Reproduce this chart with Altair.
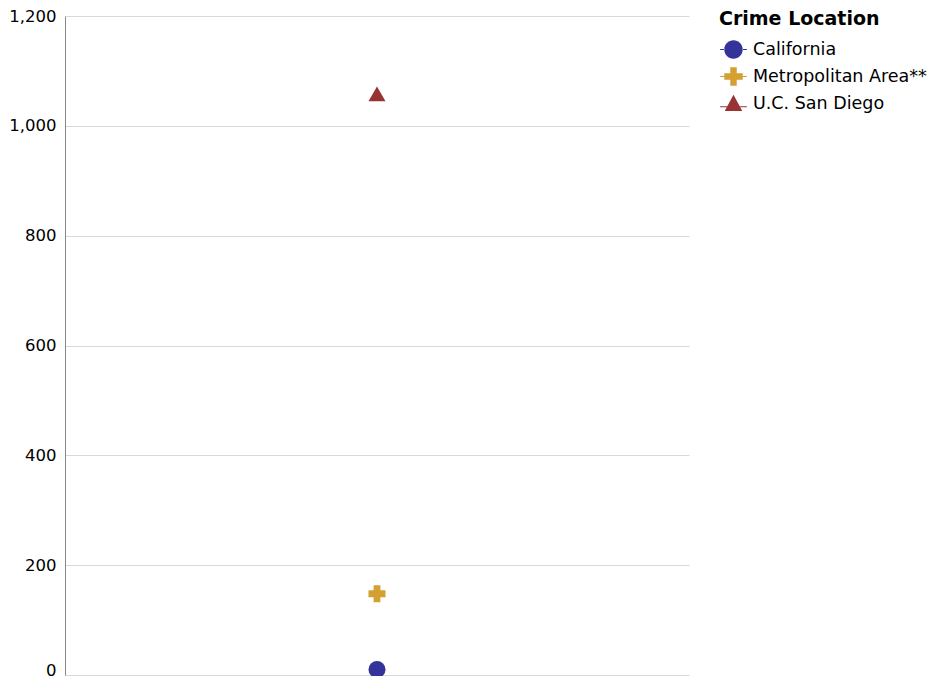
import altair as alt
import pandas as pd

locations = ["California", "Metropolitan Area**", "U.C. San Diego"]
values = [10, 148, 1058]
groups = ["All", "All", "All"]
colors = ["#333399", "#D4A032", "#993333"]
shapes = ["circle", "cross", "triangle-up"]
legend_paths = [
    "M-1,0 A1,1 0 1,0 1,0 A1,1 0 1,0 -1,0 Z M-1.45,-0.06 H-0.95 V0.06 H-1.45 Z M0.95,-0.06 H1.45 V0.06 H0.95 Z",
    "M-1,-0.35 H-0.35 V-1 H0.35 V-0.35 H1 V0.35 H0.35 V1 H-0.35 V0.35 H-1 Z M-1.45,-0.06 H-1 V0.06 H-1.45 Z M1,-0.06 H1.45 V0.06 H1 Z",
    "M0,-0.95 L0.95,0.8 L-0.95,0.8 Z M-1.45,0.3 H-0.6 V0.42 H-1.45 Z M0.6,0.3 H1.45 V0.42 H0.6 Z",
]

df = pd.DataFrame({"location": locations, "value": values, "group": groups})

y_enc = alt.Y(
    "value:Q",
    scale=alt.Scale(domain=[0, 1200], nice=False),
    axis=alt.Axis(title=None, values=[0, 200, 400, 600, 800, 1000, 1200], format=",.0f",
                  ticks=False, labelPadding=9, domainColor="#888888",
                  gridColor="#d9d9d9", labelFontSize=16.5, labelColor="#000000",
                  labelFont="DejaVu Sans",
                  labelBaseline={"condition": {"test": "datum.value == 0", "value": "alphabetic"},
                                 "value": "middle"}),
)
x_enc = alt.X("group:N", axis=None)

points = alt.Chart(df).mark_point(filled=True, size=290, opacity=1).encode(
    x=x_enc,
    y=y_enc,
    color=alt.Color("location:N", scale=alt.Scale(domain=locations, range=colors), legend=None),
    shape=alt.Shape("location:N", scale=alt.Scale(domain=locations, range=shapes), legend=None),
)

leg = dict(
    title="Crime Location",
    orient="none",
    legendX=654,
    legendY=-6,
    titleFontSize=19,
    titleFont="DejaVu Sans",
    titleFontWeight="bold",
    titleColor="#000000",
    titlePadding=11,
    labelFontSize=17.5,
    labelFont="DejaVu Sans",
    labelColor="#000000",
    labelLimit=0,
    labelOffset=10,
    symbolOffset=5,
    symbolSize=340,
    symbolOpacity=1,
    symbolStrokeWidth=0,
    rowPadding=8,
    padding=0,
)

legend_layer = alt.Chart(df).mark_point(filled=True, size=290, opacity=0).encode(
    x=x_enc,
    y=y_enc,
    color=alt.Color("location:N", scale=alt.Scale(domain=locations, range=colors), legend=alt.Legend(**leg)),
    shape=alt.Shape("location:N", scale=alt.Scale(domain=locations, range=legend_paths), legend=alt.Legend(**leg)),
)

chart = alt.layer(points, legend_layer).resolve_scale(
    color="independent", shape="independent"
).properties(
    width=624,
    height=659,
    autosize=alt.AutoSizeParams(type="none"),
    padding={"left": 57, "top": 8, "right": 245, "bottom": 1},
).configure(font="DejaVu Sans").configure_view(strokeWidth=0, stroke="transparent")

chart.save("out.html", embed_options={"renderer": "svg", "actions": False})
